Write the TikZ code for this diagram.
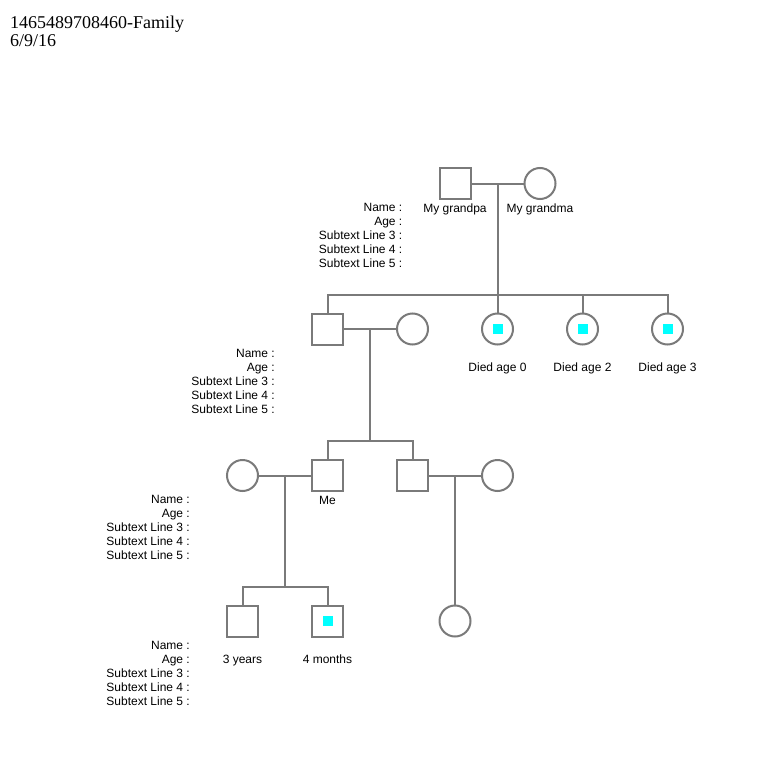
\documentclass[tikz,border=0pt]{standalone}
\usepackage{fontspec}
\setmainfont{Liberation Serif}
\newfontfamily\labelfont{Liberation Sans}
\usetikzlibrary{positioning}
\definecolor{PedLine}{RGB}{122,122,122}
\definecolor{PedMark}{RGB}{0,255,255}

\begin{document}
\begin{tikzpicture}[
  x=1pt, y=-1pt,
  node distance=146pt and 85pt,
  person/.style={minimum size=31pt, inner sep=0pt, draw=PedLine,
                 line width=2pt, on grid},
  male/.style={person, rectangle},
  female/.style={person, circle},
  affected/.style={path picture={\fill[PedMark]
      ([shift={(-5pt,-5pt)}]path picture bounding box.center) rectangle
      ([shift={(5pt,5pt)}]path picture bounding box.center);}},
  link/.style={draw=PedLine, line width=2pt},
  lbl/.style={font=\labelfont\fontsize{12}{14}\selectfont, inner sep=0pt,
              text height=9pt, text depth=3pt},
  info/.style={font=\labelfont\fontsize{12}{14}\selectfont, inner sep=0pt,
               align=right},
  title/.style={font=\fontsize{18}{18}\selectfont, inner sep=0pt, align=left}
]

\path[use as bounding box, fill=white] (0,0) rectangle (769,784);

\node[title, anchor=north west] (heading) at (10,15.7)
      {1465489708460-Family\\6/9/16};

% generation I
\node[male]                     (grandpa) at (455,183.5) {};
\node[female, right=of grandpa] (grandma) {};

% generation II
\node[male]                       (father) at (327.5,329) {};
\node[female, right=of father]    (mother) {};
\node[female, affected, right=of mother] (dau0) {};
\node[female, affected, right=of dau0]   (dau2) {};
\node[female, affected, right=of dau2]   (dau3) {};

% generation III
\node[female]                   (mywife)   at (242.5,475.5) {};
\node[male, right=of mywife]    (me)       {};
\node[male, right=of me]        (brother)  {};
\node[female, right=of brother] (sisinlaw) {};

% generation IV
\node[male]                       (son)  at (242.5,621) {};
\node[male, affected, right=of son] (baby) {};

% couples and sibships
\draw[link] (grandpa) -- coordinate[midway] (gpcouple) (grandma);
\coordinate (gen2bar) at ([yshift=18pt]father.north);
\draw[link] (gpcouple) -- (dau0.north);
\draw[link] (father.north) -- (gen2bar) -| (dau3.north);
\draw[link] (dau2.north) -- (dau2.north |- gen2bar);

\draw[link] (father) -- coordinate[midway] (parents) (mother);
\coordinate (gen3bar) at ([yshift=18pt]me.north);
\draw[link] (parents) -- (parents |- gen3bar);
\draw[link] (me.north) -- (gen3bar) -| (brother.north);

\draw[link] (mywife) -- coordinate[midway] (mycouple) (me);
\coordinate (gen4bar) at ([yshift=18pt]son.north);
\draw[link] (mycouple) -- (mycouple |- gen4bar);
\draw[link] (son.north) -- (gen4bar) -| (baby.north);

\draw[link] (brother) -- coordinate[midway] (brocouple) (sisinlaw);
\node[female] (niece) at (brocouple |- son) {};
\draw[link] (brocouple) -- (niece);

% labels
\node[lbl, below=3pt of grandpa]  (grandpaname) {My grandpa};
\node[lbl, below=3pt of grandma]  (grandmaname) {My grandma};
\node[lbl, below=17pt of dau0]    (dau0age) {Died age 0};
\node[lbl, below=17pt of dau2]    (dau2age) {Died age 2};
\node[lbl, below=17pt of dau3]    (dau3age) {Died age 3};
\node[lbl, below=3pt of me]       (mename)  {Me};
\node[lbl, below=17pt of son]     (sonage)  {3 years};
\node[lbl, below=17pt of baby]    (babyage) {4 months};

\coordinate (mywifecorner) at (mywife.south -| mywife.west);
\node[info, below left=3.5pt and 36pt of grandpa.south west] (grandpainfo)
      {Name :\\Age :\\Subtext Line 3 :\\Subtext Line 4 :\\Subtext Line 5 :};
\node[info, below left=3.5pt and 36pt of father.south west] (fatherinfo)
      {Name :\\Age :\\Subtext Line 3 :\\Subtext Line 4 :\\Subtext Line 5 :};
\node[info, below left=3.5pt and 36pt of mywifecorner] (mywifeinfo)
      {Name :\\Age :\\Subtext Line 3 :\\Subtext Line 4 :\\Subtext Line 5 :};
\node[info, below left=3.5pt and 36pt of son.south west] (soninfo)
      {Name :\\Age :\\Subtext Line 3 :\\Subtext Line 4 :\\Subtext Line 5 :};

\end{tikzpicture}
\end{document}
